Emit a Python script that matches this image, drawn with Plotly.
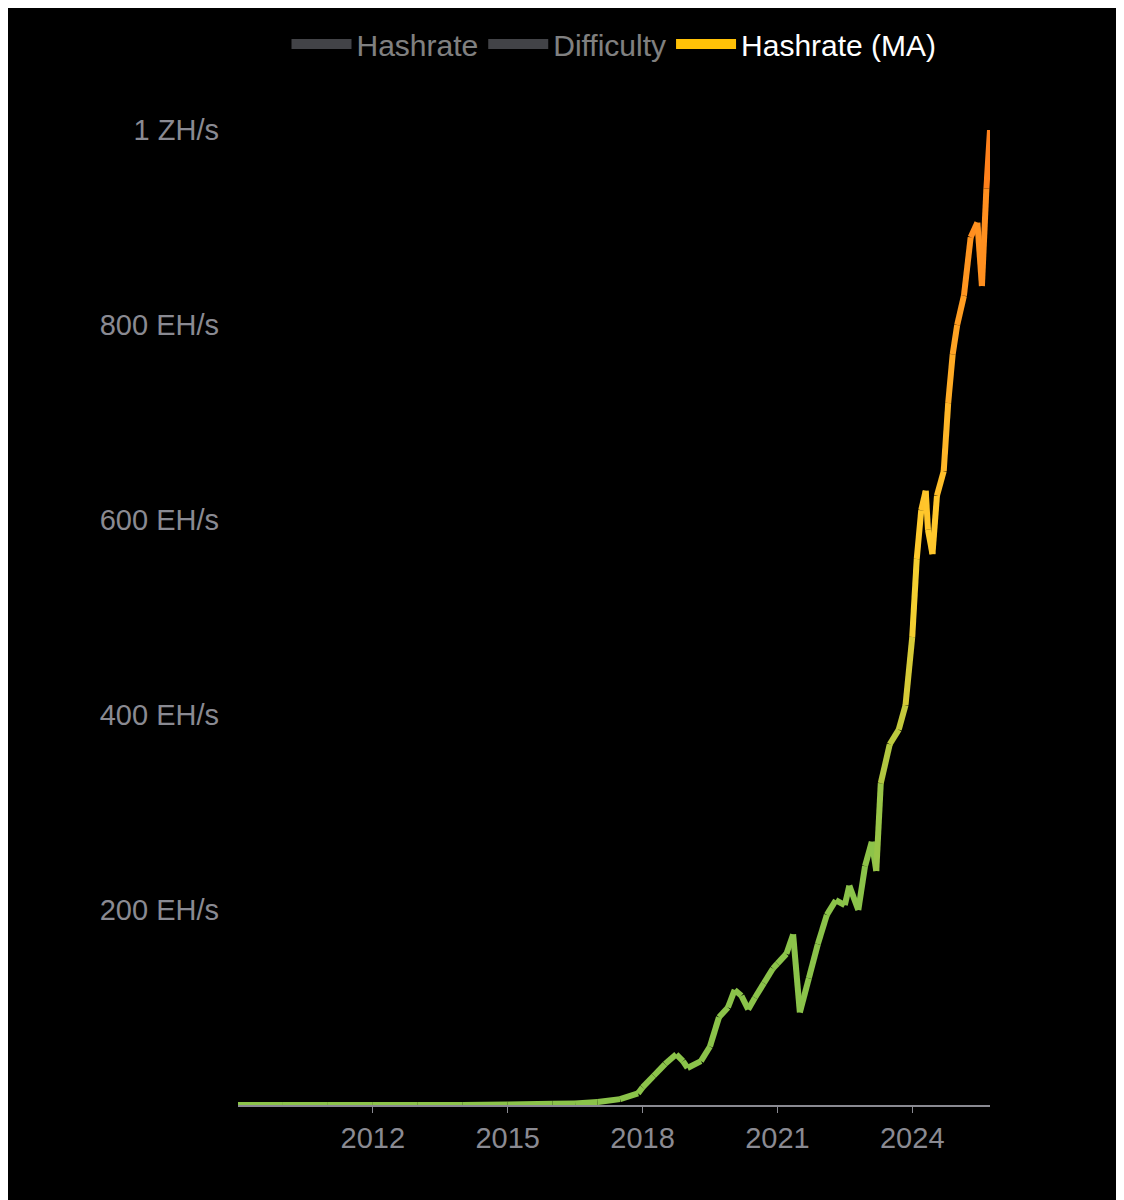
import plotly.graph_objects as go

years = [2009.0, 2010.0, 2011.0, 2012.0, 2013.0, 2014.0, 2015.0, 2016.0, 2016.5, 2017.0, 2017.5, 2017.9,
         2018.0, 2018.25, 2018.5, 2018.75, 2018.9, 2019.0, 2019.3, 2019.5, 2019.7, 2019.9, 2020.05, 2020.2,
         2020.35, 2020.5, 2020.7, 2020.9, 2021.0, 2021.2, 2021.35, 2021.5, 2021.7, 2021.9, 2022.1, 2022.3,
         2022.5, 2022.6, 2022.8, 2022.95, 2023.1, 2023.2, 2023.3, 2023.5, 2023.7, 2023.85, 2024.0, 2024.1,
         2024.2, 2024.3, 2024.35, 2024.45, 2024.55, 2024.7, 2024.8, 2024.9, 2025.0, 2025.15, 2025.3, 2025.45,
         2025.55, 2025.65, 2025.73]
hashrate_ma = [0, 0, 0, 0, 0, 0.1, 0.4, 1.2, 1.5, 3, 6, 12,
               18, 30, 42, 52, 45, 38, 45, 60, 90, 100, 118, 112,
               98, 110, 125, 140, 145, 155, 175, 95, 130, 165, 195, 210,
               205, 225, 200, 245, 270, 240, 330, 370, 385, 410, 480, 560,
               610, 630, 590, 565, 625, 650, 720, 770, 800, 830, 890, 905,
               840, 940, 1000]
tick_years = [2012, 2015, 2018, 2021, 2024]
y_ticks = [200, 400, 600, 800, 1000]
y_tick_labels = ["200 EH/s", "400 EH/s", "600 EH/s", "800 EH/s", "1 ZH/s"]

def lerp(c1, c2, t):
    return tuple(int(round(a + (b - a) * t)) for a, b in zip(c1, c2))

def color_for(v):
    green, yellow, orange = (139, 195, 74), (255, 208, 46), (255, 122, 26)
    if v < 550:
        c = lerp(green, yellow, max(0, (v - 250) / 300))
    else:
        c = lerp(yellow, orange, (v - 550) / 450)
    return "rgb(%d,%d,%d)" % c

fig = go.Figure()
fig.add_trace(go.Scatter(x=[None], y=[None], name="Hashrate", mode="lines",
                         line=dict(color="#84868e", width=16), visible="legendonly"))
fig.add_trace(go.Scatter(x=[None], y=[None], name="Difficulty", mode="lines",
                         line=dict(color="#84868e", width=16), visible="legendonly"))
fig.add_trace(go.Scatter(x=[None], y=[None], name="Hashrate (MA)", mode="lines",
                         line=dict(color="#ffc107", width=16)))
for i in range(len(years) - 1):
    v = (hashrate_ma[i] + hashrate_ma[i + 1]) / 2
    fig.add_trace(go.Scatter(x=years[i:i + 2], y=hashrate_ma[i:i + 2], mode="lines",
                             line=dict(color=color_for(v), width=6), showlegend=False,
                             hoverinfo="skip"))

fig.update_layout(
    width=1124, height=1200, paper_bgcolor="black", plot_bgcolor="black",
    margin=dict(l=230, r=142, t=122, b=103, autoexpand=False),
    font=dict(family="Liberation Sans, Arial", size=29, color="#8a8a92"),
    legend=dict(orientation="h", x=0.5, xanchor="center", y=0.97, yanchor="middle",
                yref="container", xref="paper",
                font=dict(size=30, color="white"), itemwidth=60),
    xaxis=dict(range=[2009.0, 2025.73], tickvals=tick_years, ticktext=[str(t) for t in tick_years],
               showgrid=False, zeroline=False, showline=True, linecolor="#8a8a92", linewidth=2,
               ticks="outside", tickcolor="#8a8a92", ticklen=6, tickfont=dict(size=29)),
    yaxis=dict(range=[0, 1000], tickvals=y_ticks, ticktext=y_tick_labels, showgrid=False,
               zeroline=False, showline=False, ticks="", ticklabelstandoff=18, tickfont=dict(size=29)),
)
fig.write_html("out.html")
